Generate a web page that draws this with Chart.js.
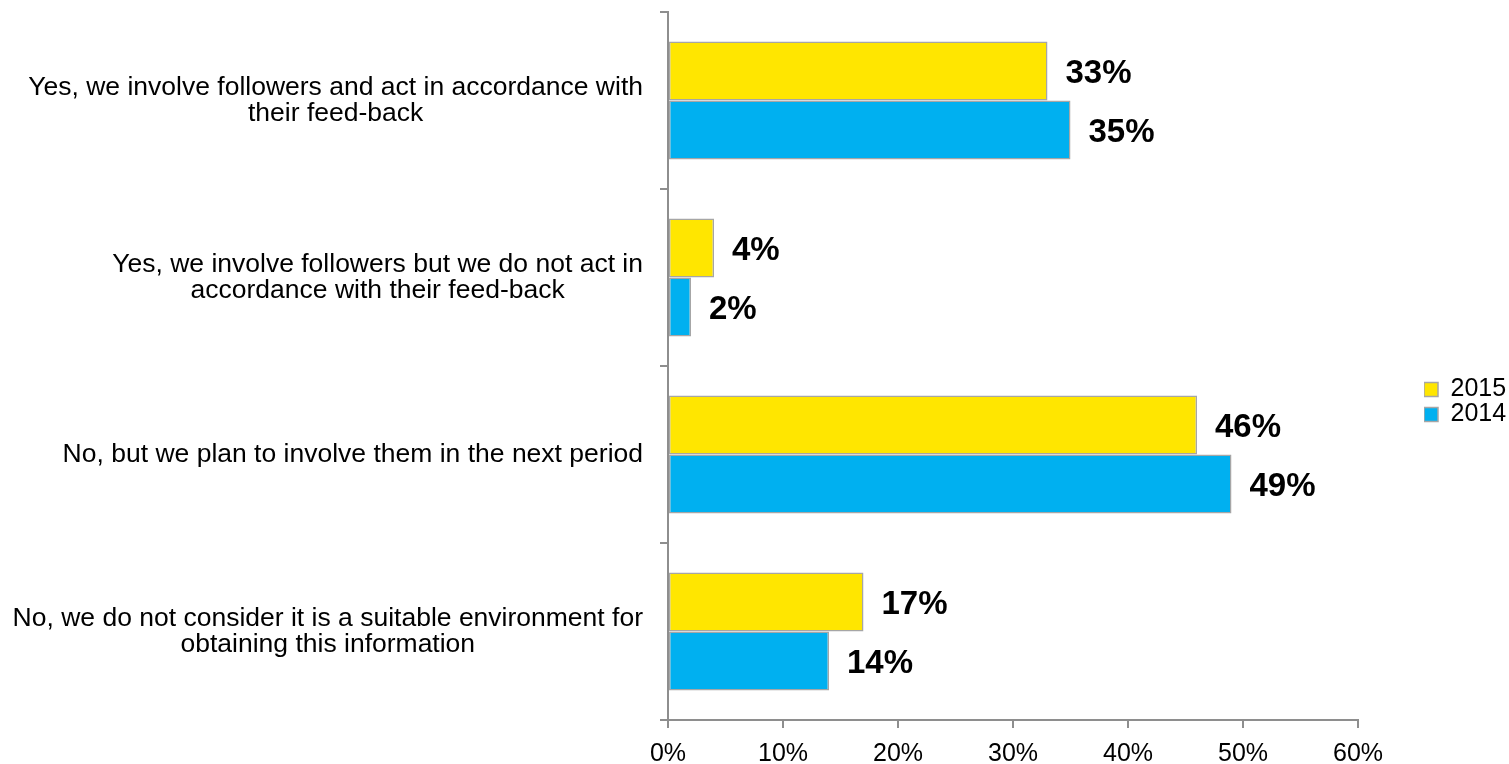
<!DOCTYPE html>
<html>
<head>
<meta charset="utf-8">
<script src="https://cdn.jsdelivr.net/npm/chart.js@4.4.1/dist/chart.umd.min.js"></script>
<style>
  html, body { margin: 0; padding: 0; background: #fff; }
  #wrap { width: 1509px; height: 764px; }
</style>
</head>
<body>
<div id="wrap"><canvas id="chart"></canvas></div>
<script>
// Datos del gráfico
const categories = [
  ['Yes, we involve followers and act in accordance with', 'their feed-back'],
  ['Yes, we involve followers but we do not act in', 'accordance with their feed-back'],
  ['No, but we plan to involve them in the next period'],
  ['No, we do not consider it is a suitable environment for', 'obtaining this information']
];
const seriesNames = ['2015', '2014'];
const values2015 = [33, 4, 46, 17];
const values2014 = [35, 2, 49, 14];
const xMin = 0, xMax = 60, xStep = 10;

const FONT = '"Liberation Sans", Arial, sans-serif';
const AXIS = '#8e8e8e';

// etiquetas de valor al final de cada barra
const barLabels = {
  id: 'barLabels',
  afterDatasetsDraw(chart) {
    const ctx = chart.ctx;
    ctx.save();
    ctx.font = 'bold 33px ' + FONT;
    ctx.fillStyle = '#000';
    ctx.textBaseline = 'middle';
    ctx.textAlign = 'left';
    chart.data.datasets.forEach((ds, i) => {
      chart.getDatasetMeta(i).data.forEach((bar, j) => {
        ctx.fillText(ds.data[j] + '%', bar.x + 18, bar.y + 3);
      });
    });
    ctx.restore();
  }
};

// etiquetas de categoría: bloque alineado a la derecha, líneas centradas
const catLabels = {
  id: 'catLabels',
  afterDraw(chart) {
    const ctx = chart.ctx;
    const yScale = chart.scales.y;
    const lh = 26;
    ctx.save();
    ctx.font = '26.5px ' + FONT;
    ctx.fillStyle = '#000';
    ctx.textBaseline = 'middle';
    ctx.textAlign = 'center';
    chart.data.labels.forEach((lines, i) => {
      const yc = yScale.getPixelForTick(i);
      const w = Math.max(...lines.map(t => ctx.measureText(t).width));
      const xc = yScale.right - 25 - w / 2;
      lines.forEach((t, k) => {
        ctx.fillText(t, xc, yc + (k - (lines.length - 1) / 2) * lh);
      });
    });
    ctx.restore();
  }
};

// leyenda: ancho fijo y posición a la derecha
const legendPlace = {
  id: 'legendPlace',
  beforeLayout(chart) {
    const lg = chart.legend;
    if (lg && !lg._patched) {
      const fit = lg.fit.bind(lg);
      lg.fit = function () { fit(); this.width = 151; };
      lg._patched = true;
    }
  },
  afterLayout(chart) {
    const lg = chart.legend;
    const w = lg.right - lg.left;
    lg.left = 1424 - lg.options.labels.padding;
    lg.right = lg.left + w;
    const h = lg.bottom - lg.top;
    lg.top = 26;
    lg.bottom = lg.top + h;
  }
};

window.addEventListener('load', () => {
  new Chart(document.getElementById('chart'), {
    type: 'bar',
    data: {
      labels: categories,
      datasets: [
        { label: seriesNames[0], data: values2015, backgroundColor: '#FFE600', borderColor: '#a6a6a6', borderWidth: 1.5, borderSkipped: false },
        { label: seriesNames[1], data: values2014, backgroundColor: '#00B0F0', borderColor: '#a6a6a6', borderWidth: 1.5, borderSkipped: false }
      ]
    },
    options: {
      indexAxis: 'y',
      responsive: true,
      maintainAspectRatio: false,
      animation: false,
      datasets: { bar: { categoryPercentage: 0.667, barPercentage: 1 } },
      layout: { padding: { top: 12, right: 0, bottom: 0, left: 0 } },
      plugins: {
        tooltip: { enabled: false },
        legend: {
          position: 'right',
          labels: { boxWidth: 14, boxHeight: 14, padding: 0, color: '#000', font: { family: FONT, size: 25 } }
        }
      },
      scales: {
        x: {
          min: xMin, max: xMax,
          afterFit: s => { s.height = 44; },
          border: { color: AXIS, width: 2 },
          grid: { drawOnChartArea: false, drawTicks: true, tickLength: 8, color: AXIS, lineWidth: 2 },
          ticks: { stepSize: xStep, padding: 11, color: '#000', font: { family: FONT, size: 25 }, callback: v => v + '%' }
        },
        y: {
          afterFit: s => { s.width = 668; s.paddingTop = 0; s.paddingBottom = 0; },
          border: { color: AXIS, width: 2 },
          grid: { drawOnChartArea: false, drawTicks: true, tickLength: 8, color: AXIS, lineWidth: 2 },
          ticks: { display: false }
        }
      }
    },
    plugins: [barLabels, catLabels, legendPlace]
  });
});
</script>
</body>
</html>
